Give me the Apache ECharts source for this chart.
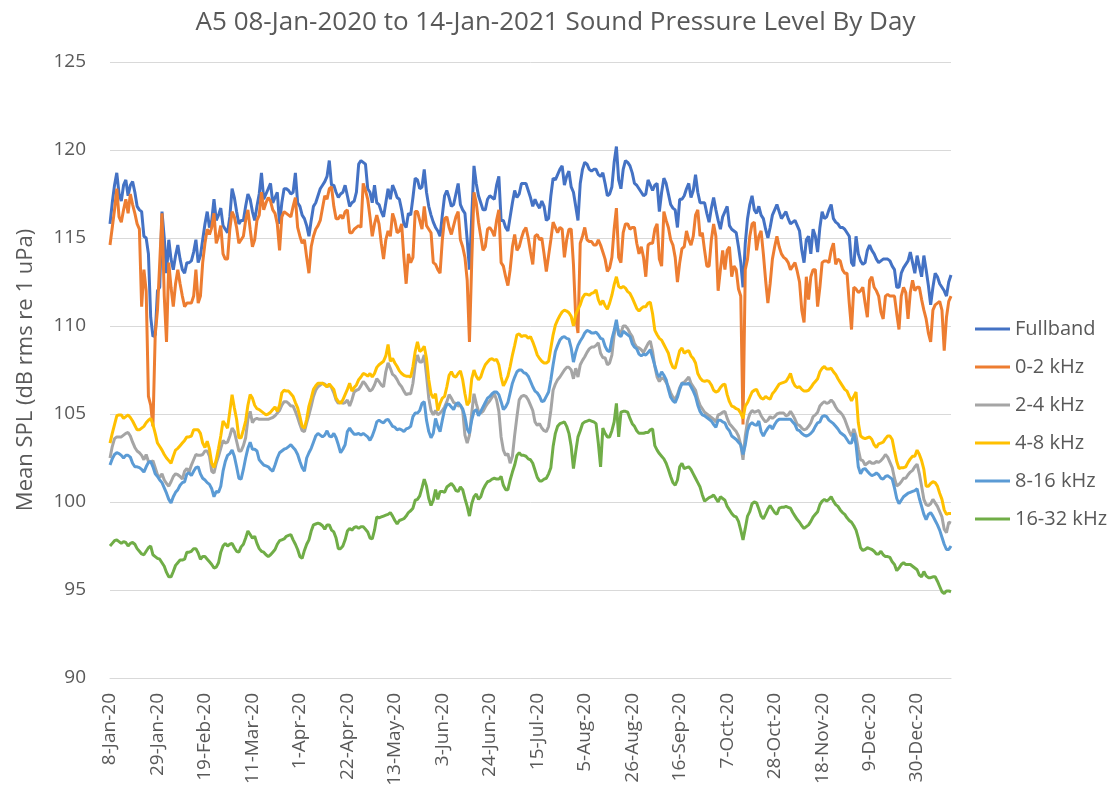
<!DOCTYPE html>
<html>
<head>
<meta charset="utf-8">
<title>A5 Sound Pressure Level By Day</title>
<script src="https://cdn.jsdelivr.net/npm/echarts@6/dist/echarts.min.js"></script>
<style>
  html, body { margin: 0; padding: 0; background: #fff; }
  #chart { width: 1111px; height: 794px; }
</style>
</head>
<body>
<div id="chart"></div>
<script>
  // daily values, 08-Jan-2020 .. 14-Jan-2021 (373 days)
  var fullband = [
    115.8, 117.0, 118.0, 118.7, 117.5, 117.1, 118.0, 118.3, 117.4, 118.0,
    118.2, 117.6, 116.8, 116.6, 116.5, 115.1, 115.0, 114.1, 110.5, 109.4,
    109.5, 112.0, 112.2, 116.5, 115.0, 113.0, 114.9, 113.8, 113.2, 114.0,
    114.6, 113.8, 113.2, 113.0, 113.6, 113.6, 113.7, 114.2, 114.9, 113.6,
    114.0, 114.9, 115.8, 116.5, 115.6, 116.0, 117.2, 116.0, 116.3, 116.7,
    115.7, 115.5, 115.3, 116.2, 117.8, 117.3, 116.5, 115.8, 116.0, 116.0,
    116.8, 117.5, 117.2, 116.5, 116.0, 116.8, 117.5, 118.7, 117.2, 117.5,
    117.8, 118.1, 117.0, 117.3, 117.6, 115.8, 117.0, 117.8, 117.8, 117.7,
    117.5, 117.6, 118.7, 117.0, 116.8, 116.3, 116.1, 115.7, 115.1, 116.0,
    116.8, 117.0, 117.4, 117.8, 118.0, 118.2, 118.5, 119.4, 118.0, 118.0,
    117.6, 117.3, 117.5, 117.6, 118.0, 117.4, 116.8, 117.0, 117.1, 117.6,
    119.2, 119.4, 119.3, 119.2, 117.8, 117.6, 117.0, 118.0, 117.0, 116.9,
    116.5, 116.2, 117.0, 117.8, 117.2, 118.0, 117.7, 117.3, 117.2, 116.6,
    115.8, 115.6, 116.4, 116.3, 117.3, 118.4, 118.3, 117.8, 117.9, 118.9,
    117.6, 116.8, 116.3, 115.9, 115.6, 115.4, 115.1, 116.3, 117.4, 117.7,
    117.3, 116.8, 116.9, 117.5, 118.1, 116.9, 116.6, 116.4, 114.9, 113.2,
    116.2, 119.1, 118.1, 117.4, 117.0, 116.6, 116.6, 117.2, 117.4, 117.3,
    117.2, 118.0, 118.5, 116.0, 116.0, 115.6, 115.4, 116.2, 117.0, 117.7,
    117.3, 117.5, 118.1, 118.1, 118.1, 117.7, 117.3, 116.8, 117.2, 116.9,
    116.7, 117.1, 116.8, 116.0, 116.1, 117.4, 118.4, 118.3, 118.6, 118.9,
    119.1, 118.0, 118.5, 118.8, 117.9, 117.6, 116.8, 116.0, 118.1, 118.9,
    119.3, 119.2, 118.9, 118.8, 118.9, 118.9, 118.6, 118.5, 118.7, 118.1,
    117.4, 117.5, 117.9, 119.3, 120.2, 118.3, 117.8, 118.9, 119.4, 119.3,
    119.1, 118.7, 118.1, 118.0, 117.8, 117.6, 117.4, 117.5, 118.3, 118.0,
    117.7, 118.0, 118.1, 116.5, 117.6, 118.4, 118.1, 117.5, 116.9, 116.7,
    116.6, 115.6, 117.2, 117.2, 117.4, 117.8, 118.1, 117.3, 117.7, 118.6,
    117.6, 117.0, 117.0, 117.0, 116.4, 115.9, 116.7, 117.3, 116.6, 116.0,
    115.5, 116.2, 116.5, 116.8, 115.7, 115.5, 115.4, 115.3, 114.5, 113.6,
    112.2, 114.7, 116.1, 116.9, 117.4, 116.6, 116.4, 116.8, 116.3, 116.1,
    115.5, 115.0, 115.6, 116.3, 116.6, 116.9, 116.5, 116.1, 116.3, 116.5,
    116.1, 115.8, 115.9, 116.0, 115.7, 115.4, 114.3, 113.6, 114.9, 115.1,
    114.1, 115.5, 115.1, 114.2, 115.6, 116.5, 116.1, 116.2, 116.6, 116.9,
    116.1, 115.9, 115.8, 115.6, 115.6, 115.5, 115.3, 115.1, 113.6, 113.4,
    115.1, 114.1, 113.7, 113.5, 113.6, 114.3, 114.6, 114.3, 114.1, 113.8,
    113.6, 113.7, 113.8, 113.8, 113.8, 113.7, 113.4, 113.2, 112.2, 112.2,
    113.0, 113.3, 113.5, 113.7, 114.2, 113.6, 113.0, 114.0, 113.4, 112.8,
    114.0, 113.2, 112.3, 111.2, 112.2, 113.0, 112.8, 112.4, 112.2, 112.0,
    111.7, 112.5, 112.9
  ];
  var band0to2 = [
    114.6, 115.6, 116.6, 117.8, 116.2, 115.9, 116.6, 117.2, 116.4, 117.5,
    116.9, 116.4, 115.8, 115.5, 111.1, 113.2, 112.0, 106.0, 105.5, 104.3,
    109.5, 110.9, 113.6, 116.4, 111.7, 109.1, 113.6, 112.2, 111.1, 112.4,
    113.2, 112.4, 111.7, 111.1, 111.3, 111.3, 111.3, 111.7, 113.2, 111.3,
    111.7, 113.6, 114.7, 115.5, 115.2, 115.6, 116.4, 114.7, 115.1, 115.7,
    114.1, 113.8, 113.8, 115.5, 116.5, 116.2, 115.6, 114.7, 114.9, 115.1,
    116.0, 116.6, 115.5, 114.5, 114.9, 116.0, 116.3, 117.6, 116.6, 117.0,
    117.3, 117.1, 116.6, 116.4, 115.8, 114.3, 116.2, 116.5, 116.4, 116.3,
    116.2, 116.8, 117.3, 115.6, 115.1, 114.7, 114.9, 113.9, 113.0, 114.5,
    115.1, 115.5, 115.7, 116.0, 116.7, 117.4, 117.2, 117.8, 117.9, 116.8,
    116.1, 116.1, 116.3, 116.1, 116.5, 116.6, 115.3, 115.3, 115.5, 115.6,
    115.7, 115.6, 118.1, 117.7, 117.2, 116.2, 115.1, 115.8, 116.3, 115.8,
    114.7, 113.8, 114.9, 115.4, 115.1, 116.4, 116.0, 115.3, 115.4, 115.8,
    113.9, 112.4, 114.1, 113.6, 113.9, 116.5, 116.5, 116.0, 115.5, 116.8,
    115.7, 115.5, 115.3, 113.6, 113.5, 113.2, 113.0, 114.9, 116.1, 116.2,
    115.6, 115.2, 115.7, 116.2, 116.5, 114.9, 114.5, 113.9, 112.6, 109.1,
    113.6, 117.6, 117.0, 115.9, 115.1, 114.3, 114.5, 115.5, 115.6, 115.4,
    115.1, 116.0, 116.6, 113.6, 113.4, 112.8, 112.3, 113.2, 114.5, 115.2,
    114.3, 114.5, 115.0, 115.4, 115.6, 115.0, 114.2, 113.5, 115.1, 115.2,
    114.9, 115.0, 114.1, 113.1, 114.0, 114.9, 115.9, 115.6, 115.3, 115.6,
    115.5, 113.9, 114.9, 115.5, 115.5, 113.5, 110.5, 109.6, 114.7, 115.1,
    115.6, 114.9, 114.8, 114.8, 114.6, 114.6, 114.9, 114.6, 114.2, 113.8,
    113.1, 113.3, 113.9, 115.5, 116.7, 113.9, 113.6, 115.3, 115.8, 115.8,
    115.5, 115.6, 115.6, 114.7, 114.1, 114.5, 113.9, 112.8, 114.6, 114.7,
    114.7, 115.5, 115.8, 113.8, 113.4, 116.5, 116.0, 115.6, 114.9, 114.6,
    113.9, 112.5, 113.6, 114.4, 114.5, 115.4, 114.9, 114.6, 115.1, 116.3,
    116.6, 115.1, 115.3, 114.3, 113.4, 113.4, 114.9, 115.8, 115.1, 112.0,
    113.2, 114.3, 113.2, 114.3, 114.5, 112.8, 113.4, 113.2, 112.1, 111.7,
    104.4, 113.2, 113.8, 115.1, 115.8, 115.9, 114.3, 115.1, 115.4, 114.1,
    112.6, 111.3, 112.4, 113.8, 114.5, 115.1, 114.5, 114.1, 113.9, 113.8,
    113.6, 113.2, 113.4, 113.6, 113.1, 112.5, 110.9, 110.2, 112.8, 111.5,
    112.8, 113.2, 113.2, 111.1, 112.2, 113.6, 113.7, 113.7, 113.6, 114.3,
    114.7, 113.5, 113.8, 113.7, 113.2, 113.0, 113.0, 111.3, 109.8, 112.2,
    112.1, 111.9, 112.0, 112.2, 111.3, 110.5, 112.6, 112.8, 112.2, 112.0,
    111.7, 110.8, 110.4, 111.7, 111.8, 111.7, 111.7, 111.7, 110.7, 109.8,
    111.7, 112.2, 111.9, 110.4, 111.9, 112.6, 112.0, 112.2, 112.2, 111.5,
    110.9, 110.4, 109.6, 109.1, 110.9, 111.2, 111.3, 111.4, 110.9, 108.6,
    110.5, 111.4, 111.7
  ];
  var band2to4 = [
    102.5, 103.15, 103.6, 103.7, 103.7, 103.7, 103.8, 103.9, 103.95, 103.75,
    103.4, 103.1, 102.9, 102.8, 102.65, 102.4, 102.7, 102.3, 102.25, 102.35,
    101.95, 101.55, 101.4, 101.6, 101.25, 101.05, 100.9, 101.15, 101.45, 101.6,
    101.55, 101.45, 101.3, 101.75, 101.9, 101.7, 102.1, 102.4, 102.7, 102.65,
    102.65, 102.7, 102.9, 102.9, 102.6, 101.75, 101.65, 102.2, 102.6, 103.05,
    103.5, 103.35, 103.4, 103.75, 104.2, 104.0, 103.45, 102.9, 102.9, 103.2,
    103.65, 104.7, 105.15, 104.5, 104.7, 104.75, 104.7, 104.7, 104.7, 104.7,
    104.7, 104.75, 104.8, 104.9, 105.05, 105.2, 105.5, 105.7, 105.7, 105.6,
    105.45, 105.45, 105.15, 104.8, 104.4, 104.05, 104.0, 104.5, 104.95, 105.45,
    106.0, 106.35, 106.55, 106.65, 106.75, 106.7, 106.55, 106.65, 106.5, 106.2,
    105.8, 105.6, 105.7, 105.6, 105.65, 105.8, 105.45, 105.8, 106.25, 106.35,
    106.4, 106.6, 106.85, 106.7, 106.5, 106.3, 106.4, 106.65, 107.0, 106.85,
    106.65, 106.55, 107.4, 107.9, 107.6, 107.25, 107.15, 106.95, 106.7, 106.55,
    106.3, 106.1, 106.15, 106.15, 106.75, 107.8, 108.35, 107.95, 107.95, 108.35,
    107.2, 105.9, 105.2, 104.95, 105.2, 104.95, 105.05, 105.2, 105.4, 105.7,
    106.1, 105.9, 105.65, 105.6, 105.45, 105.5, 105.2, 103.8, 103.35, 103.8,
    105.05, 106.15, 105.6, 105.15, 105.05, 105.15, 105.4, 105.6, 105.75, 105.95,
    106.15, 105.8, 105.15, 103.7, 102.95, 102.65, 102.75, 102.2, 102.6, 103.8,
    104.85, 105.8, 106.0, 106.05, 106.0, 105.8, 105.5, 105.2, 104.55, 104.35,
    104.45, 104.2, 104.05, 104.0, 104.3, 105.2, 106.35, 106.7, 106.95, 107.1,
    107.3, 107.5, 107.65, 107.65, 107.5, 107.0, 107.6, 107.1, 107.8, 108.05,
    108.25, 108.5, 108.7, 108.8, 108.8, 108.9, 109.05, 108.45, 108.2, 108.2,
    107.8, 107.9, 108.35, 109.5, 110.05, 109.7, 109.6, 110.0, 110.0, 109.85,
    109.6, 109.4, 109.0, 108.8, 108.75, 108.65, 108.5, 108.75, 109.0, 109.15,
    108.55, 107.7, 107.1, 106.85, 107.05, 107.0, 106.8, 106.55, 106.2, 105.95,
    105.85, 106.1, 106.5, 106.75, 106.8, 106.95, 107.1, 106.75, 106.55, 106.35,
    105.85, 105.5, 105.3, 105.1, 105.0, 104.9, 104.8, 104.7, 104.55, 104.95,
    105.0, 105.1, 105.15, 104.75, 104.45, 104.3, 104.15, 104.0, 103.75, 103.25,
    102.4, 103.75, 104.6, 105.0, 105.2, 105.1, 105.15, 105.2, 104.9, 104.7,
    104.55, 104.65, 104.85, 104.75, 104.85, 105.0, 105.05, 105.05, 105.05, 104.9,
    104.95, 105.15, 104.95, 104.7, 104.4, 104.35, 104.2, 104.1, 104.15, 104.3,
    104.5, 104.85, 104.95, 105.1, 105.45, 105.6, 105.7, 105.6, 105.65, 105.8,
    105.65, 105.4, 105.2, 105.1, 104.95, 104.7, 104.35, 104.0, 103.75, 104.15,
    103.75, 103.0, 102.4, 102.35, 102.1, 102.2, 102.3, 102.2, 102.2, 102.3,
    102.25, 102.35, 102.5, 102.7, 102.55, 102.25, 101.95, 101.35, 100.9, 101.0,
    101.15, 101.35, 101.35, 101.55, 101.7, 101.8, 102.0, 102.15, 101.6, 100.9,
    100.15, 99.85, 99.8, 99.9, 100.15, 99.95, 99.75, 99.45, 99.15, 98.45,
    98.25, 98.85, 98.8
  ];
  var band4to8 = [
    103.35, 103.9, 104.4, 104.9, 104.95, 104.95, 104.75, 104.85, 104.95, 104.8,
    104.6, 104.35, 104.1, 104.1, 104.2, 104.3, 104.5, 104.65, 104.75, 104.4,
    103.9, 103.35, 103.15, 102.95, 102.7, 102.5, 102.35, 102.2, 102.6, 102.95,
    103.05, 103.2, 103.35, 103.5, 103.7, 103.7, 103.75, 104.1, 104.1, 104.1,
    103.9, 103.35, 103.1, 103.45, 103.0, 102.2, 101.95, 102.4, 103.05, 103.75,
    104.6, 104.4, 104.2, 105.15, 106.1, 105.35, 104.7, 103.65, 103.65, 104.1,
    104.6, 105.5, 106.1, 105.9, 105.5, 105.3, 105.25, 105.15, 105.05, 104.95,
    105.0, 105.1, 105.25, 105.4, 105.15, 105.5, 106.2, 106.35, 106.3, 106.3,
    106.15, 106.0, 105.65, 105.35, 104.85, 104.3, 104.2, 104.7, 105.45, 105.9,
    106.4, 106.6, 106.75, 106.75, 106.75, 106.65, 106.55, 106.7, 106.55, 106.4,
    105.9, 105.7, 105.6, 105.8, 106.1, 106.4, 106.75, 106.3, 106.5, 106.65,
    106.95, 107.1, 107.3, 107.25, 107.15, 107.3, 107.1, 107.3, 107.65, 107.8,
    107.9, 108.0, 108.3, 108.95, 108.0, 108.15, 107.9, 107.7, 107.45, 107.3,
    107.2, 107.15, 107.15, 107.1, 107.7, 108.55, 109.1, 108.55, 108.65, 108.85,
    108.15, 106.95, 106.15, 105.9, 106.15, 105.2, 105.6, 105.9, 106.0, 106.55,
    107.2, 107.4, 107.15, 107.1, 107.3, 107.45, 106.95, 106.15, 105.5, 105.7,
    107.0, 107.5, 107.15, 106.95, 107.1, 107.5, 107.8, 107.95, 108.1, 108.15,
    108.05, 108.1, 107.8, 107.1, 106.6, 106.85, 107.15, 107.7, 108.35, 108.9,
    109.5, 109.55, 109.4, 109.45, 109.45, 109.3, 109.4, 109.1, 108.75, 108.35,
    108.15, 108.0, 107.9, 107.9, 108.0, 108.75, 109.5, 110.05, 110.35, 110.6,
    110.8, 110.9, 110.85, 110.75, 110.55, 110.0, 110.65, 110.95, 111.2, 111.6,
    111.8, 111.8, 111.75, 111.85, 111.9, 112.05, 111.5, 111.2, 111.45, 111.15,
    110.95, 111.3, 111.75, 112.35, 112.8, 112.25, 112.15, 112.25, 112.15, 111.95,
    111.85, 111.6, 111.3, 111.0, 110.85, 111.0, 111.1, 111.1, 111.3, 111.35,
    110.7, 109.75, 109.5, 109.3, 109.2, 108.95, 108.7, 108.45, 107.95, 107.65,
    107.6, 108.1, 108.6, 108.75, 108.45, 108.55, 108.6, 108.3, 108.15, 107.9,
    107.3, 107.05, 106.9, 106.85, 106.9, 106.85, 106.65, 106.35, 106.25, 106.3,
    106.5, 106.65, 106.7, 106.1, 105.7, 105.45, 105.4, 105.3, 105.25, 105.05,
    104.75, 105.45, 105.65, 105.95, 106.25, 106.35, 106.4, 106.1, 105.9, 105.85,
    106.0, 105.9, 105.85, 106.15, 106.3, 106.5, 106.7, 106.75, 106.8, 106.85,
    107.05, 107.3, 106.85, 106.6, 106.5, 106.55, 106.4, 106.3, 106.3, 106.35,
    106.5, 106.7, 106.85, 107.0, 107.4, 107.6, 107.7, 107.55, 107.55, 107.6,
    107.4, 107.25, 107.0, 106.8, 106.6, 106.4, 106.3, 106.0, 105.75, 106.0,
    106.25, 104.5, 103.75, 103.65, 103.6, 103.65, 103.7, 103.55, 103.25, 103.1,
    103.3, 103.35, 103.4, 103.6, 103.75, 103.75, 103.55, 102.9, 102.3, 101.9,
    101.95, 101.95, 102.0, 102.25, 102.45, 102.6, 102.6, 102.95, 102.7, 102.35,
    101.85, 100.9, 100.9, 101.05, 101.15, 101.1, 100.9, 100.5, 100.15, 99.55,
    99.3, 99.35, 99.35
  ];
  var band8to16 = [
    102.1, 102.45, 102.7, 102.8, 102.75, 102.65, 102.5, 102.65, 102.65, 102.55,
    102.2, 102.0, 102.0, 101.95, 101.85, 101.7, 102.0, 102.25, 102.3, 102.0,
    101.6, 101.45, 101.25, 101.1, 100.8, 100.5, 100.15, 99.95, 100.3, 100.55,
    100.7, 100.95, 101.1, 101.15, 101.6, 101.65, 101.5, 101.75, 101.95, 102.0,
    101.6, 101.35, 101.25, 101.1, 101.0, 100.75, 100.3, 100.6, 100.55, 100.9,
    101.75, 102.3, 102.65, 102.75, 102.95, 102.6, 102.0, 101.35, 101.3, 101.85,
    102.5, 103.05, 103.4, 103.0, 103.0, 102.9, 102.4, 102.25, 102.1, 102.05,
    102.0, 101.85, 101.75, 102.1, 102.5, 102.8, 102.9, 103.0, 103.05, 103.15,
    103.25, 103.1, 102.95, 102.7, 102.3, 101.95, 101.75, 102.5, 102.8, 103.05,
    103.4, 103.75, 103.9, 103.8, 103.7, 103.8, 104.05, 103.75, 103.7, 103.9,
    103.65, 103.25, 102.8, 103.0, 103.25, 104.0, 104.2, 104.0, 103.85, 103.85,
    103.9, 103.8, 103.9, 103.8, 103.7, 103.5, 103.75, 104.1, 104.55, 104.65,
    104.55, 104.5, 104.65, 104.7, 104.5, 104.3, 104.25, 104.1, 104.15, 104.1,
    104.0, 104.15, 104.2, 104.3, 104.85, 105.05, 105.05, 105.2, 105.6, 105.7,
    104.65, 104.0, 103.65, 103.9, 104.75, 104.3, 104.0, 104.65, 105.25, 105.55,
    105.55, 105.4, 105.25, 105.55, 105.65, 105.5, 105.3, 104.85, 104.15, 103.9,
    104.65, 105.15, 105.25, 104.9, 105.15, 105.4, 105.65, 105.9, 106.0, 106.15,
    106.25, 106.25, 106.1, 105.7, 105.25, 105.4, 105.65, 106.2, 106.75, 107.1,
    107.4, 107.5, 107.5, 107.35, 107.3, 107.15, 106.85, 106.55, 106.3, 106.2,
    106.0, 105.7, 105.75, 106.0, 106.25, 106.95, 107.8, 108.55, 108.9, 109.2,
    109.35, 109.4, 109.3, 109.25, 108.75, 107.95, 108.5, 108.9, 109.15, 109.35,
    109.6, 109.75, 109.7, 109.6, 109.6, 109.65, 109.5, 109.3, 109.25, 108.85,
    108.6, 108.55, 109.25, 109.75, 110.35, 109.5, 109.4, 109.7, 109.6, 109.5,
    109.4, 109.0, 108.8, 108.7, 108.4, 108.3, 108.4, 108.35, 108.5, 108.65,
    108.2, 107.75, 107.3, 107.1, 107.4, 107.2, 106.95, 106.4, 105.95, 105.75,
    105.65, 105.95, 106.4, 106.75, 106.7, 106.7, 106.75, 106.55, 106.3, 106.0,
    105.5, 105.15, 104.95, 104.9, 104.8, 104.7, 104.6, 104.4, 104.25, 104.65,
    104.65, 104.55, 104.5, 104.2, 104.05, 103.75, 103.65, 103.55, 103.4, 103.25,
    102.7, 103.25, 104.05, 104.4, 104.5, 104.4, 104.35, 104.6, 104.0, 103.75,
    104.0, 104.2, 104.35, 104.15, 104.4, 104.6, 104.7, 104.7, 104.7, 104.7,
    104.7, 104.7, 104.55, 104.4, 104.1, 104.05, 103.9, 103.8, 103.75, 103.8,
    103.9, 104.05, 104.3, 104.5, 104.55, 104.85, 104.9, 104.85, 104.65, 104.55,
    104.45, 104.3, 104.15, 103.95, 103.85, 103.75, 103.55, 103.35, 103.35, 103.9,
    103.25, 102.0, 101.6, 101.85, 101.9, 101.75, 101.6, 101.5, 101.55, 101.65,
    101.55, 101.35, 101.3, 101.45, 101.5, 101.4, 101.3, 100.8, 100.2, 99.9,
    100.1, 100.3, 100.4, 100.5, 100.55, 100.6, 100.65, 100.75, 100.2, 99.75,
    99.3, 99.0, 99.3, 99.4, 99.2, 98.95, 98.7, 98.4, 98.0, 97.6,
    97.3, 97.3, 97.5
  ];
  var band16to32 = [
    97.5, 97.65, 97.8, 97.85, 97.75, 97.65, 97.75, 97.7, 97.5, 97.65,
    97.7, 97.6, 97.35, 97.2, 97.05, 97.0, 97.2, 97.4, 97.5, 97.0,
    96.9, 96.8, 96.75, 96.55, 96.35, 96.0, 95.75, 95.75, 96.05, 96.4,
    96.55, 96.7, 96.7, 96.75, 97.15, 97.15, 97.2, 97.35, 97.35, 97.1,
    96.75, 96.9, 96.9, 96.75, 96.6, 96.45, 96.25, 96.3, 96.55, 97.15,
    97.5, 97.65, 97.5, 97.6, 97.65, 97.4, 97.2, 97.15, 97.45, 97.6,
    97.95, 98.35, 98.15, 97.95, 98.05, 97.65, 97.35, 97.2, 97.15, 97.0,
    96.9, 97.0, 97.15, 97.3, 97.6, 97.8, 97.85, 97.9, 98.05, 98.1,
    98.15, 97.85, 97.6, 97.3, 96.9, 96.8, 97.25, 97.6, 97.85, 98.35,
    98.7, 98.75, 98.8, 98.75, 98.65, 98.45, 98.7, 98.7, 98.4, 98.3,
    97.95, 97.35, 97.35, 97.5, 97.85, 98.35, 98.5, 98.4, 98.55, 98.6,
    98.5, 98.6, 98.6, 98.45, 98.3, 97.95, 97.9, 98.4, 99.15, 99.1,
    99.15, 99.2, 99.25, 99.3, 99.4, 99.2, 98.95, 98.75, 98.95, 99.0,
    99.05, 99.2, 99.4, 99.5, 99.65, 100.1, 100.15, 100.35, 100.8, 101.3,
    100.9, 100.2, 99.8, 100.1, 100.7, 100.15, 100.6, 100.6, 100.55, 100.85,
    100.95, 101.05, 100.9, 100.65, 100.6, 100.85, 100.7, 100.2, 99.75, 99.2,
    99.9, 100.3, 100.45, 100.15, 100.3, 100.7, 100.95, 101.15, 101.2, 101.3,
    101.35, 101.3, 101.3, 101.45, 100.95, 100.7, 100.7, 101.25, 101.7, 102.1,
    102.65, 102.8, 102.65, 102.65, 102.6, 102.45, 102.4, 102.2, 101.8, 101.4,
    101.2, 101.2, 101.3, 101.35, 101.6, 101.95, 103.15, 103.9, 104.3, 104.45,
    104.5, 104.55, 104.3, 103.9, 103.15, 101.9, 102.85, 103.7, 104.05, 104.45,
    104.55, 104.6, 104.65, 104.6, 104.55, 104.45, 103.35, 102.0, 104.2, 103.9,
    103.7, 103.7, 104.05, 104.55, 105.6, 103.7, 105.1, 105.15, 105.15, 105.1,
    104.75, 104.45, 104.3, 104.05, 103.9, 103.9, 103.9, 103.95, 103.95, 104.1,
    104.15, 103.2, 102.95, 102.75, 102.6, 102.45, 102.2, 101.85, 101.45, 101.1,
    100.95, 101.25, 102.0, 102.2, 101.9, 101.95, 102.0, 101.85, 101.6, 101.35,
    101.1, 100.85, 100.4, 100.05, 100.15, 100.25, 100.3, 100.4, 100.2, 100.0,
    100.3, 100.2, 100.1, 99.75, 99.55, 99.35, 99.2, 99.15, 98.9, 98.4,
    97.85, 98.5, 99.2, 99.45, 99.9, 100.0, 99.95, 99.6, 99.2, 99.05,
    99.3, 99.6, 99.8, 99.6, 99.4, 99.3, 99.65, 99.7, 99.7, 99.75,
    99.7, 99.65, 99.4, 99.2, 99.0, 98.85, 98.65, 98.5, 98.6, 98.7,
    98.9, 99.15, 99.3, 99.45, 99.85, 100.05, 100.15, 100.05, 100.15, 100.3,
    100.05, 99.85, 99.75, 99.55, 99.4, 99.3, 99.1, 98.95, 98.85, 98.65,
    98.4, 97.95, 97.4, 97.25, 97.3, 97.4, 97.35, 97.3, 97.2, 97.05,
    97.05, 97.2, 97.0, 96.9, 96.9, 96.85, 96.6, 96.45, 96.1, 96.25,
    96.45, 96.55, 96.45, 96.45, 96.45, 96.35, 96.25, 96.15, 95.85, 95.75,
    96.05, 95.8, 95.7, 95.7, 95.75, 95.75, 95.5, 95.2, 94.9, 94.8,
    94.95, 94.95, 94.9
  ];

  var seriesNames = ['Fullband', '0-2 kHz', '2-4 kHz', '4-8 kHz', '8-16 kHz', '16-32 kHz'];
  var seriesColors = ['#4472C4', '#ED7D31', '#A5A5A5', '#FFC000', '#5B9BD5', '#70AD47'];
  var seriesData = [fullband, band0to2, band2to4, band4to8, band8to16, band16to32];

  // one category per day, labelled like "8-Jan-20"
  var monthNames = ['Jan', 'Feb', 'Mar', 'Apr', 'May', 'Jun', 'Jul', 'Aug', 'Sep', 'Oct', 'Nov', 'Dec'];
  var startDay = Date.UTC(2020, 0, 8);
  var dayCount = 373;
  var days = [];
  for (var i = 0; i < dayCount; i++) {
    var dt = new Date(startDay + i * 86400000);
    days.push(dt.getUTCDate() + '-' + monthNames[dt.getUTCMonth()] + '-' + String(dt.getUTCFullYear()).slice(2));
  }

  seriesData.forEach(function (arr, k) {
    if (arr.length !== dayCount) throw new Error(seriesNames[k] + ' has ' + arr.length + ' values');
  });

  var font = 'Open Sans';
  var grey = '#595959';

  var seriesList = [];
  for (var s = 0; s < seriesNames.length; s++) {
    seriesList.push({
      name: seriesNames[s],
      type: 'line',
      data: seriesData[s],
      symbol: 'none',
      smooth: false,
      lineStyle: { width: 3, color: seriesColors[s] },
      itemStyle: { color: seriesColors[s] },
      emphasis: { disabled: true }
    });
  }

  var chart = echarts.init(document.getElementById('chart'));
  chart.setOption({
    animation: false,
    backgroundColor: '#fff',
    title: {
      text: 'A5 08-Jan-2020 to 14-Jan-2021 Sound Pressure Level By Day',
      left: 'center',
      top: 5,
      textStyle: { fontFamily: font, fontSize: 26, fontWeight: 'normal', color: grey }
    },
    grid: { left: 110, right: 160, top: 62, bottom: 116 },
    legend: {
      orient: 'vertical',
      left: 970,
      top: 314,
      icon: 'rect',
      itemWidth: 35,
      itemHeight: 3,
      itemGap: 18,
      textStyle: { fontFamily: font, fontSize: 20, color: grey },
      data: seriesNames
    },
    xAxis: {
      type: 'category',
      data: days,
      boundaryGap: false,
      axisLine: { show: true, lineStyle: { color: '#d9d9d9' } },
      axisTick: { show: false },
      axisLabel: {
        interval: 20,
        rotate: 90,
        margin: 15,
        fontFamily: font,
        fontSize: 19,
        color: grey
      },
      splitLine: { show: false }
    },
    yAxis: {
      type: 'value',
      min: 90,
      max: 125,
      interval: 5,
      name: 'Mean SPL (dB rms re 1 uPa)',
      nameLocation: 'middle',
      nameGap: 73,
      nameTextStyle: { fontFamily: font, fontSize: 22, color: grey },
      axisLine: { show: false },
      axisTick: { show: false },
      axisLabel: { margin: 24, fontFamily: font, fontSize: 19, color: grey },
      splitLine: { lineStyle: { color: '#d9d9d9', width: 1 } }
    },
    series: seriesList
  });
</script>
</body>
</html>
